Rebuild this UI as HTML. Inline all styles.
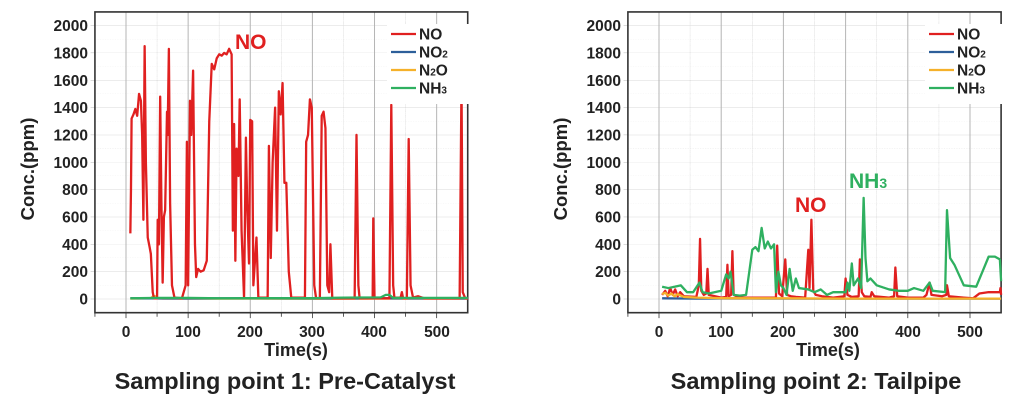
<!DOCTYPE html>
<html><head><meta charset="utf-8"><style>
body{margin:0;background:#fff}
svg{display:block;font-family:"Liberation Sans",Arial,sans-serif;font-weight:bold}
.maj{stroke:#b4b4b4;stroke-width:1.6;vector-effect:non-scaling-stroke}
.min{stroke:#d0d0d0;stroke-width:1;stroke-dasharray:2 2;vector-effect:non-scaling-stroke}
.s{fill:none;stroke-width:2.3;stroke-linejoin:round;vector-effect:non-scaling-stroke}
.tk{stroke:#333;stroke-width:1.3;vector-effect:non-scaling-stroke}
</style></head><body>
<svg width="1019" height="409" viewBox="0 0 1019 409">
<defs>
<g id="grid">
  <g class="min">
    <line x1="-50" y1="-100" x2="-50" y2="2100"/><line x1="50" y1="-100" x2="50" y2="2100"/><line x1="150" y1="-100" x2="150" y2="2100"/><line x1="250" y1="-100" x2="250" y2="2100"/><line x1="350" y1="-100" x2="350" y2="2100"/><line x1="450" y1="-100" x2="450" y2="2100"/>
    <line x1="-50" y1="100" x2="550" y2="100"/><line x1="-50" y1="300" x2="550" y2="300"/><line x1="-50" y1="500" x2="550" y2="500"/><line x1="-50" y1="700" x2="550" y2="700"/><line x1="-50" y1="900" x2="550" y2="900"/><line x1="-50" y1="1100" x2="550" y2="1100"/><line x1="-50" y1="1300" x2="550" y2="1300"/><line x1="-50" y1="1500" x2="550" y2="1500"/><line x1="-50" y1="1700" x2="550" y2="1700"/><line x1="-50" y1="1900" x2="550" y2="1900"/>
  </g>
  <g class="maj">
    <line x1="0" y1="-100" x2="0" y2="2100"/><line x1="100" y1="-100" x2="100" y2="2100"/><line x1="200" y1="-100" x2="200" y2="2100"/><line x1="300" y1="-100" x2="300" y2="2100"/><line x1="400" y1="-100" x2="400" y2="2100"/><line x1="500" y1="-100" x2="500" y2="2100"/>
    <line x1="-50" y1="0" x2="550" y2="0"/><line x1="-50" y1="200" x2="550" y2="200"/><line x1="-50" y1="400" x2="550" y2="400"/><line x1="-50" y1="600" x2="550" y2="600"/><line x1="-50" y1="800" x2="550" y2="800"/><line x1="-50" y1="1000" x2="550" y2="1000"/><line x1="-50" y1="1200" x2="550" y2="1200"/><line x1="-50" y1="1400" x2="550" y2="1400"/><line x1="-50" y1="1600" x2="550" y2="1600"/><line x1="-50" y1="1800" x2="550" y2="1800"/><line x1="-50" y1="2000" x2="550" y2="2000"/>
  </g>
  <rect x="-50" y="-100" width="600" height="2200" fill="none" stroke="#333" stroke-width="1.6" vector-effect="non-scaling-stroke"/>
  <g class="tk">
    <line x1="-57" y1="0" x2="-50" y2="0"/><line x1="-57" y1="200" x2="-50" y2="200"/><line x1="-57" y1="400" x2="-50" y2="400"/><line x1="-57" y1="600" x2="-50" y2="600"/><line x1="-57" y1="800" x2="-50" y2="800"/><line x1="-57" y1="1000" x2="-50" y2="1000"/><line x1="-57" y1="1200" x2="-50" y2="1200"/><line x1="-57" y1="1400" x2="-50" y2="1400"/><line x1="-57" y1="1600" x2="-50" y2="1600"/><line x1="-57" y1="1800" x2="-50" y2="1800"/><line x1="-57" y1="2000" x2="-50" y2="2000"/>
    <line x1="0" y1="-100" x2="0" y2="-140"/><line x1="100" y1="-100" x2="100" y2="-140"/><line x1="200" y1="-100" x2="200" y2="-140"/><line x1="300" y1="-100" x2="300" y2="-140"/><line x1="400" y1="-100" x2="400" y2="-140"/><line x1="500" y1="-100" x2="500" y2="-140"/>
    <line x1="-50" y1="-100" x2="-50" y2="-130"/><line x1="50" y1="-100" x2="50" y2="-130"/><line x1="150" y1="-100" x2="150" y2="-130"/><line x1="250" y1="-100" x2="250" y2="-130"/><line x1="350" y1="-100" x2="350" y2="-130"/><line x1="450" y1="-100" x2="450" y2="-130"/>
  </g>
</g>
<g id="ylab" font-size="15.5" text-anchor="end" fill="#222">
  <text x="0" y="5.5">0</text><text x="0" y="-21.8">200</text><text x="0" y="-49.2">400</text><text x="0" y="-76.5">600</text><text x="0" y="-103.9">800</text><text x="0" y="-131.2">1000</text><text x="0" y="-158.5">1200</text><text x="0" y="-185.9">1400</text><text x="0" y="-213.2">1600</text><text x="0" y="-240.6">1800</text><text x="0" y="-267.9">2000</text>
</g>
<g id="leg" font-size="15.5" fill="#222">
  <rect x="-4" y="-10" width="86" height="80" fill="#fff"/>
  <line x1="0" y1="0" x2="25" y2="0" stroke="#e02020" stroke-width="2.3"/><text x="28" y="5.5">NO</text>
  <line x1="0" y1="18" x2="25" y2="18" stroke="#2d5f9a" stroke-width="2.3"/><text x="28" y="23.5">NO<tspan font-size="10">2</tspan></text>
  <line x1="0" y1="36" x2="25" y2="36" stroke="#f5b12a" stroke-width="2.3"/><text x="28" y="41.5">N<tspan font-size="10">2</tspan>O</text>
  <line x1="0" y1="54" x2="25" y2="54" stroke="#2fb060" stroke-width="2.3"/><text x="28" y="59.5">NH<tspan font-size="10">3</tspan></text>
</g>
</defs>

<!-- LEFT -->
<g transform="translate(126,299) scale(0.6213,-0.1367)">
  <use href="#grid"/>
  <polyline class="s" stroke="#f5b12a" points="7,3 40,5 44,22 47,20 50,5 60,3 100,3 200,3 300,2 400,3 550,3"/>
  <polyline class="s" stroke="#2d5f9a" points="7,5 100,4 200,5 300,4 400,5 550,4"/>
  <polyline class="s" stroke="#e02020" points="7,480 8,800 9,1320 12,1350 15,1390 18,1340 21,1500 24,1450 26,1200 28,580 30,1850 32,1000 35,450 38,380 40,330 43,50 45,5 50,5 51,580 53,400 55,1480 57,700 59,120 61,600 63,650 66,1370 67,1200 69,1830 71,700 74,100 78,10 90,5 96,100 98,1150 100,100 103,1450 105,1200 108,1670 111,400 113,160 116,220 120,200 125,210 130,280 134,1300 138,1720 142,1680 146,1760 150,1790 154,1780 158,1800 162,1790 166,1830 170,1790 172,500 174,1280 176,280 178,1100 181,900 183,1460 186,500 190,10 193,1180 195,700 198,260 200,1310 203,1300 205,100 210,450 213,10 228,10 230,1120 233,300 236,1000 240,1400 243,500 246,1520 249,1350 252,1580 255,850 258,850 262,200 266,10 288,10 290,1150 293,1200 296,1460 299,1400 303,100 306,5 312,5 315,1340 318,1370 321,1250 324,100 327,50 329,400 332,5 368,5 371,1200 374,100 376,5 397,5 398,590 400,5 424,5 427,1420 430,100 432,10 442,10 444,50 446,5 452,5 455,1170 458,100 462,10 470,20 480,5 537,5 540,1590 542,50 546,5 550,5"/>
  <polyline class="s" stroke="#2fb060" points="7,5 50,8 100,8 150,5 200,6 300,6 350,10 410,12 418,30 424,30 430,8 500,8 550,8"/>
</g>
<use href="#ylab" x="88" y="299"/>
<g font-size="15.5" text-anchor="middle" fill="#222">
  <text x="126" y="337">0</text><text x="188" y="337">100</text><text x="250" y="337">200</text><text x="312" y="337">300</text><text x="374" y="337">400</text><text x="437" y="337">500</text>
  <text x="296" y="356" font-size="18">Time(s)</text>
  <text x="285" y="389" font-size="23.5">Sampling point 1: Pre-Catalyst</text>
  <text transform="translate(34,169) rotate(-90)" font-size="18.5">Conc.(ppm)</text>
</g>
<text x="235" y="49" font-size="21" fill="#e02020">NO</text>
<use href="#leg" x="391" y="34"/>

<!-- RIGHT -->
<g transform="translate(659,299) scale(0.622,-0.1367)">
  <use href="#grid"/>
  <polyline class="s" stroke="#2d5f9a" points="5,5 60,3 100,4 200,3 300,3 400,3 550,3"/>
  <polyline class="s" stroke="#e02020" points="5,30 10,60 14,20 18,80 22,30 26,70 30,20 34,50 40,20 60,15 64,100 66,440 68,60 72,30 76,40 78,220 80,30 90,20 100,10 108,15 110,250 112,20 116,30 118,350 120,30 130,10 180,10 188,10 190,390 193,40 198,20 203,290 206,30 212,20 220,15 235,10 240,360 242,80 245,580 248,60 252,30 262,20 280,10 298,20 300,150 303,30 310,15 321,20 323,290 326,50 330,20 340,15 342,50 346,20 370,10 378,20 380,230 383,20 400,10 425,10 430,30 435,120 438,30 455,20 462,30 463,100 466,20 490,10 505,5 515,40 530,50 548,50 549,80 550,30"/>
  <polyline class="s" stroke="#f5b12a" points="5,35 10,45 15,25 20,40 25,20 30,35 40,15 60,10 80,8 100,6 150,5 200,5 300,3 400,3 550,3"/>
  <polyline class="s" stroke="#2fb060" points="5,90 15,80 25,90 35,100 45,50 55,50 65,120 70,50 80,40 90,50 100,60 108,180 112,150 115,200 120,30 130,25 140,30 150,360 155,380 160,350 165,520 170,370 175,420 180,370 185,400 188,50 192,200 196,100 200,80 205,30 210,220 215,60 220,150 225,80 240,70 250,50 260,70 270,30 280,50 300,50 303,120 306,60 310,260 313,100 320,150 325,80 329,740 332,300 335,130 340,150 350,100 370,70 385,60 400,60 410,80 425,60 435,120 440,60 460,50 463,650 468,300 475,250 490,100 510,90 520,200 530,310 540,310 548,290 550,130"/>
</g>
<use href="#ylab" x="621" y="299"/>
<g font-size="15.5" text-anchor="middle" fill="#222">
  <text x="659" y="337">0</text><text x="721" y="337">100</text><text x="783" y="337">200</text><text x="846" y="337">300</text><text x="908" y="337">400</text><text x="970" y="337">500</text>
  <text x="828" y="356" font-size="18">Time(s)</text>
  <text x="816" y="389" font-size="23.5">Sampling point 2: Tailpipe</text>
  <text transform="translate(567,169) rotate(-90)" font-size="18.5">Conc.(ppm)</text>
</g>
<text x="795" y="212" font-size="21" fill="#e02020">NO</text>
<text x="849" y="188" font-size="21" fill="#2fb060">NH<tspan font-size="14">3</tspan></text>
<use href="#leg" x="929" y="34"/>
</svg>
</body></html>
